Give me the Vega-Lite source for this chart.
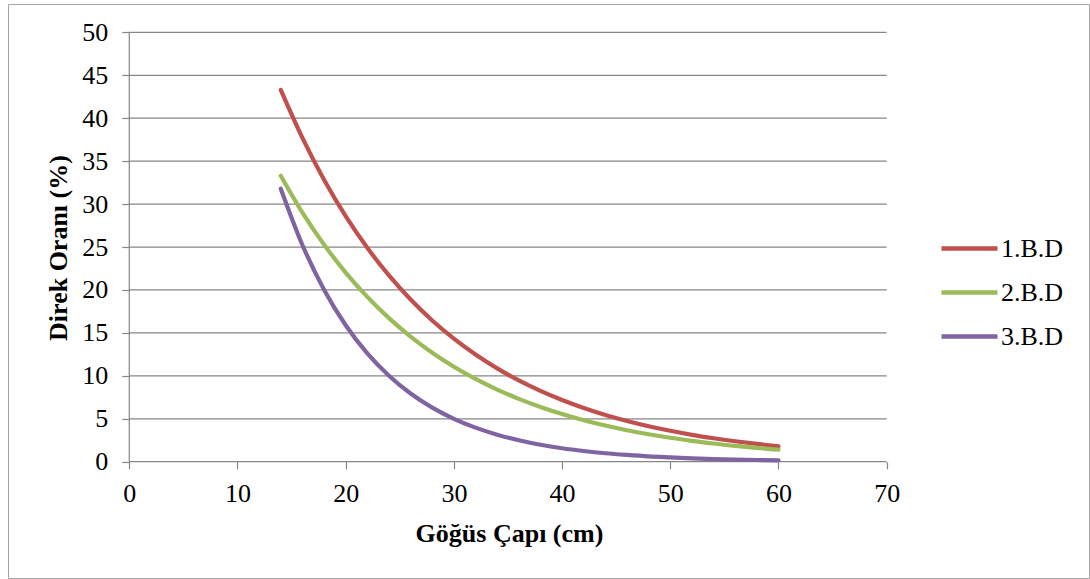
{
  "$schema": "https://vega.github.io/schema/vega-lite/v6.json",
  "width": 1081,
  "height": 574,
  "padding": {"left": 8, "top": 4, "right": 1, "bottom": 1},
  "autosize": {"type": "none"},
  "background": "white",
  "config": {
    "font": "Liberation Serif",
    "view": {"stroke": "#a6a6a6", "strokeWidth": 1}
  },
  "resolve": {"axis": {"x": "independent", "y": "independent"}},
  "datasets": {
    "izgara": [
      {"oran": 0}, {"oran": 5}, {"oran": 10}, {"oran": 15}, {"oran": 20}, {"oran": 25},
      {"oran": 30}, {"oran": 35}, {"oran": 40}, {"oran": 45}, {"oran": 50}
    ],
    "egriler": [
      {"cap": 14, "oran": 43.3, "seri": "1.B.D"},
      {"cap": 16, "oran": 37.71, "seri": "1.B.D"},
      {"cap": 18, "oran": 32.84, "seri": "1.B.D"},
      {"cap": 20, "oran": 28.6, "seri": "1.B.D"},
      {"cap": 22, "oran": 24.91, "seri": "1.B.D"},
      {"cap": 24, "oran": 21.69, "seri": "1.B.D"},
      {"cap": 26, "oran": 18.89, "seri": "1.B.D"},
      {"cap": 28, "oran": 16.45, "seri": "1.B.D"},
      {"cap": 30, "oran": 14.33, "seri": "1.B.D"},
      {"cap": 32, "oran": 12.48, "seri": "1.B.D"},
      {"cap": 34, "oran": 10.87, "seri": "1.B.D"},
      {"cap": 36, "oran": 9.46, "seri": "1.B.D"},
      {"cap": 38, "oran": 8.24, "seri": "1.B.D"},
      {"cap": 40, "oran": 7.18, "seri": "1.B.D"},
      {"cap": 42, "oran": 6.25, "seri": "1.B.D"},
      {"cap": 44, "oran": 5.44, "seri": "1.B.D"},
      {"cap": 46, "oran": 4.74, "seri": "1.B.D"},
      {"cap": 48, "oran": 4.13, "seri": "1.B.D"},
      {"cap": 50, "oran": 3.6, "seri": "1.B.D"},
      {"cap": 52, "oran": 3.13, "seri": "1.B.D"},
      {"cap": 54, "oran": 2.73, "seri": "1.B.D"},
      {"cap": 56, "oran": 2.38, "seri": "1.B.D"},
      {"cap": 58, "oran": 2.07, "seri": "1.B.D"},
      {"cap": 60, "oran": 1.8, "seri": "1.B.D"},
      {"cap": 14, "oran": 33.3, "seri": "2.B.D"},
      {"cap": 16, "oran": 29.01, "seri": "2.B.D"},
      {"cap": 18, "oran": 25.28, "seri": "2.B.D"},
      {"cap": 20, "oran": 22.03, "seri": "2.B.D"},
      {"cap": 22, "oran": 19.19, "seri": "2.B.D"},
      {"cap": 24, "oran": 16.72, "seri": "2.B.D"},
      {"cap": 26, "oran": 14.57, "seri": "2.B.D"},
      {"cap": 28, "oran": 12.69, "seri": "2.B.D"},
      {"cap": 30, "oran": 11.06, "seri": "2.B.D"},
      {"cap": 32, "oran": 9.64, "seri": "2.B.D"},
      {"cap": 34, "oran": 8.4, "seri": "2.B.D"},
      {"cap": 36, "oran": 7.32, "seri": "2.B.D"},
      {"cap": 38, "oran": 6.37, "seri": "2.B.D"},
      {"cap": 40, "oran": 5.55, "seri": "2.B.D"},
      {"cap": 42, "oran": 4.84, "seri": "2.B.D"},
      {"cap": 44, "oran": 4.22, "seri": "2.B.D"},
      {"cap": 46, "oran": 3.67, "seri": "2.B.D"},
      {"cap": 48, "oran": 3.2, "seri": "2.B.D"},
      {"cap": 50, "oran": 2.79, "seri": "2.B.D"},
      {"cap": 52, "oran": 2.43, "seri": "2.B.D"},
      {"cap": 54, "oran": 2.12, "seri": "2.B.D"},
      {"cap": 56, "oran": 1.84, "seri": "2.B.D"},
      {"cap": 58, "oran": 1.61, "seri": "2.B.D"},
      {"cap": 60, "oran": 1.4, "seri": "2.B.D"},
      {"cap": 14, "oran": 31.8, "seri": "3.B.D"},
      {"cap": 16, "oran": 25.24, "seri": "3.B.D"},
      {"cap": 18, "oran": 20.03, "seri": "3.B.D"},
      {"cap": 20, "oran": 15.89, "seri": "3.B.D"},
      {"cap": 22, "oran": 12.61, "seri": "3.B.D"},
      {"cap": 24, "oran": 10.01, "seri": "3.B.D"},
      {"cap": 26, "oran": 7.94, "seri": "3.B.D"},
      {"cap": 28, "oran": 6.3, "seri": "3.B.D"},
      {"cap": 30, "oran": 5.0, "seri": "3.B.D"},
      {"cap": 32, "oran": 3.97, "seri": "3.B.D"},
      {"cap": 34, "oran": 3.15, "seri": "3.B.D"},
      {"cap": 36, "oran": 2.5, "seri": "3.B.D"},
      {"cap": 38, "oran": 1.98, "seri": "3.B.D"},
      {"cap": 40, "oran": 1.57, "seri": "3.B.D"},
      {"cap": 42, "oran": 1.25, "seri": "3.B.D"},
      {"cap": 44, "oran": 0.99, "seri": "3.B.D"},
      {"cap": 46, "oran": 0.79, "seri": "3.B.D"},
      {"cap": 48, "oran": 0.62, "seri": "3.B.D"},
      {"cap": 50, "oran": 0.5, "seri": "3.B.D"},
      {"cap": 52, "oran": 0.39, "seri": "3.B.D"},
      {"cap": 54, "oran": 0.31, "seri": "3.B.D"},
      {"cap": 56, "oran": 0.25, "seri": "3.B.D"},
      {"cap": 58, "oran": 0.2, "seri": "3.B.D"},
      {"cap": 60, "oran": 0.16, "seri": "3.B.D"}
    ]
  },
  "layer": [
    {
      "data": {"name": "izgara"},
      "mark": {"type": "rule", "color": "#868686", "strokeWidth": 1.2},
      "encoding": {
        "y": {"field": "oran", "type": "quantitative", "scale": {"domain": [-13.54, 53.3], "nice": false, "zero": false}, "axis": null},
        "x": {"datum": 0, "type": "quantitative", "scale": {"domain": [-11.21, 88.7], "nice": false, "zero": false}, "axis": null},
        "x2": {"datum": 70}
      }
    },
    {
      "data": {"values": [{}]},
      "mark": {"type": "rule", "color": "#868686", "strokeWidth": 1.2},
      "encoding": {
        "x": {"datum": 0, "type": "quantitative", "axis": null},
        "y": {"datum": 0, "type": "quantitative", "axis": null},
        "y2": {"datum": 50}
      }
    },
    {
      "data": {"name": "egriler"},
      "mark": {"type": "line", "strokeWidth": 4.2, "strokeCap": "round", "interpolate": "monotone"},
      "encoding": {
        "x": {
          "field": "cap", "type": "quantitative",
          "axis": {
            "values": [0, 10, 20, 30, 40, 50, 60, 70],
            "domain": false, "grid": false,
            "tickSize": 7, "tickColor": "#868686", "tickWidth": 1.2,
            "offset": -116.3,
            "labelFont": "Liberation Serif", "labelFontSize": 26, "labelColor": "black",
            "labelPadding": 12, "labelFlush": false, "labelOverlap": false,
            "title": "Göğüs Çapı (cm)",
            "titleFont": "Liberation Serif", "titleFontSize": 26, "titleFontWeight": "bold", "titleColor": "black",
            "titleX": 501, "titleY": 79.5, "titleBaseline": "alphabetic", "titleAlign": "center"
          }
        },
        "y": {
          "field": "oran", "type": "quantitative",
          "axis": {
            "values": [0, 5, 10, 15, 20, 25, 30, 35, 40, 45, 50],
            "domain": false, "grid": false,
            "tickSize": 7.5, "tickColor": "#868686", "tickWidth": 1.2,
            "offset": -121.3,
            "labelFont": "Liberation Serif", "labelFontSize": 26, "labelColor": "black",
            "labelPadding": 14, "labelFlush": false, "labelOverlap": false,
            "title": "Direk Oranı (%)",
            "titleFont": "Liberation Serif", "titleFontSize": 26, "titleFontWeight": "bold", "titleColor": "black",
            "titleX": -63, "titleY": 243.5, "titleBaseline": "alphabetic", "titleAlign": "center", "titleAngle": -90
          }
        },
        "color": {
          "field": "seri", "type": "nominal",
          "scale": {"domain": ["1.B.D", "2.B.D", "3.B.D"], "range": ["#C0504D", "#9BBB59", "#8064A2"]},
          "legend": {
            "orient": "none", "legendX": 931, "legendY": 214, "title": null,
            "symbolType": "stroke", "symbolSize": 3136, "symbolStrokeWidth": 4.5,
            "labelFont": "Liberation Serif", "labelFontSize": 26, "labelColor": "black",
            "labelOffset": 1, "rowPadding": -11, "padding": 0
          }
        }
      }
    }
  ]
}
